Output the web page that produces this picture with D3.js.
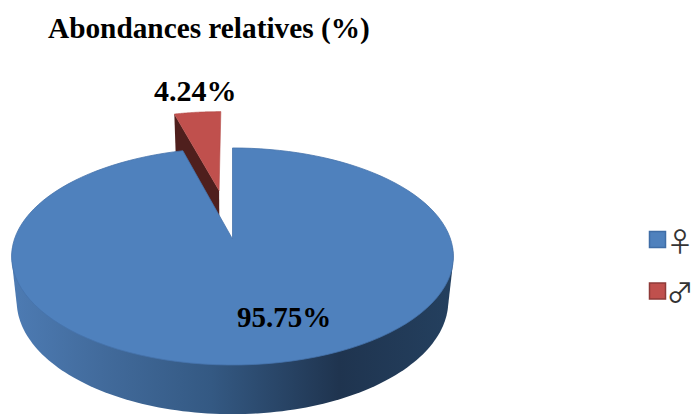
<!DOCTYPE html>
<html><head><meta charset="utf-8">
<script src="https://cdn.jsdelivr.net/npm/d3@7"></script>
<style>html,body{margin:0;padding:0;background:#fff;overflow:hidden}svg{display:block}</style>
</head><body><svg id="c" width="694" height="414"></svg>
<script>
const titleText = "Abondances relatives (%)";
const categories = ["♀", "♂"];
const values = [95.75, 4.24];
const labels = ["95.75%", "4.24%"];
const topColors = ["#4f81bd", "#c0504d"];
const edgeColors = ["#3f6da6", "#8e3a38"];
const explode = [0, 0.5];

const svg = d3.select("#c");
// perspective disc: centre on screen, persp strength, extrusion
const cx = 232.5, cy = 239, k = 0.161, RX = 218, RY = 105.7, depth = 43.7, lowScale = 0.977;
const project = (u, v, low) => {
  const s = 1 / (1 - k * v);
  const m = low ? lowScale : 1;
  return [cx + RX * u * s * m, cy + (RY * v * m + (low ? depth : 0)) * s];
};
const pie = d3.pie().sort(null).value(d => d).startAngle(0).endAngle(2 * Math.PI * d3.sum(values) / 99.99);
const arcs = pie(values);
const rot = a => [Math.sin(a), -Math.cos(a)];
const line = d3.line();
const off = (d, i) => { const m = (d.startAngle + d.endAngle) / 2, r = rot(m); return [r[0] * explode[i], r[1] * explode[i]]; };
const rim = (a0, a1, o, low) => d3.range(0, 121).map(j => {
  const r = rot(a0 + (a1 - a0) * j / 120);
  return project(r[0] + o[0], r[1] + o[1], low);
});

const defs = svg.append("defs");
const wg = defs.append("linearGradient").attr("id", "wall").attr("gradientUnits", "userSpaceOnUse")
  .attr("x1", 12).attr("x2", 454).attr("y1", 0).attr("y2", 0);
[[0, "#4d7bb3"], [0.2, "#426b9c"], [0.45, "#345983"], [0.74, "#1f344f"], [1, "#24405f"]]
  .forEach(s => wg.append("stop").attr("offset", s[0]).attr("stop-color", s[1]));

// red wedge side face
{
  const d = arcs[1], o = off(d, 1), r = rot(d.startAngle);
  const a = project(o[0], o[1], false), b = project(r[0] + o[0], r[1] + o[1], false);
  const a2 = project(o[0], o[1], true), b2 = project(r[0] + o[0], r[1] + o[1], true);
  svg.append("path").attr("d", line([b, a, a2, b2]) + "Z").attr("fill", "#4f1f1d");
  svg.append("path").attr("d", line([project(o[0], o[1], false), ...rim(d.startAngle, d.endAngle, o, false)]) + "Z")
    .attr("fill", topColors[1]).attr("stroke", "#b34b48").attr("stroke-width", 0.6);
}
// blue wall: hull of the front rims keeps a smooth silhouette
{
  const a0 = 95 * Math.PI / 180, a1 = 265 * Math.PI / 180, o = [0, 0];
  const hull = d3.polygonHull([...rim(a0, a1, o, false), ...rim(a0, a1, o, true)]);
  svg.append("path").attr("d", line(hull) + "Z").attr("fill", "url(#wall)");
}
// blue top
{
  const d = arcs[0], o = off(d, 0);
  svg.append("path").attr("d", line([project(0, 0, false), ...rim(d.startAngle, d.endAngle, o, false)]) + "Z")
    .attr("fill", topColors[0]).attr("stroke", "#4674ac").attr("stroke-width", 0.8);
}
// title and labels
const serif = "'Liberation Serif','Times New Roman',serif";
svg.append("text").attr("x", 48).attr("y", 38).attr("font-family", serif).attr("font-weight", "bold")
  .attr("font-size", 29.3).attr("fill", "#000").text(titleText);
const labelPos = [[237, 327], [154, 101]];
const labelSize = [29, 30];
labels.forEach((t, i) => svg.append("text").attr("x", labelPos[i][0]).attr("y", labelPos[i][1])
  .attr("font-family", serif).attr("font-weight", "bold").attr("font-size", labelSize[i]).attr("fill", "#000").text(t));
// legend
const ly = d3.scalePoint().domain(categories).range([239.5, 291]);
categories.forEach((c, i) => {
  svg.append("rect").attr("x", 649.5).attr("y", ly(c) - 8).attr("width", 16).attr("height", 16)
    .attr("fill", topColors[i]).attr("stroke", edgeColors[i]).attr("stroke-width", 1.5);
  svg.append("text").attr("x", 680).attr("y", ly(c) + 12).attr("text-anchor", "middle")
    .attr("font-family", "'Noto Sans CJK JP',sans-serif").attr("font-size", 27).attr("fill", "#333").text(c);
});
</script></body></html>
